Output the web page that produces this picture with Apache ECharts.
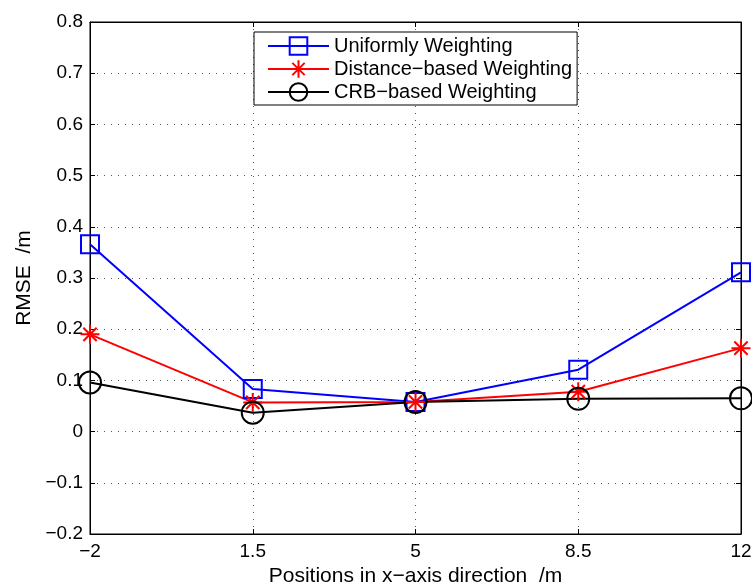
<!DOCTYPE html>
<html>
<head>
<meta charset="utf-8">
<script src="https://cdn.jsdelivr.net/npm/echarts@6/dist/echarts.min.js"></script>
<style>
  html, body { margin: 0; padding: 0; background: #fff; }
  #chart { width: 752px; height: 588px; }
</style>
</head>
<body>
<div id="chart"></div>
<script>
// x positions along the x-axis (m)
const positions = [-2, 1.5, 5, 8.5, 12]

// RMSE for each weighting scheme
const uniformRmse = [0.366, 0.083, 0.058, 0.121, 0.311]
const distanceRmse = [0.190, 0.057, 0.058, 0.078, 0.163]
const crbRmse = [0.096, 0.037, 0.058, 0.064, 0.065]

const seriesNames = ['Uniformly Weighting', 'Distance\u2212based Weighting', 'CRB\u2212based Weighting']

const FONT = 'Liberation Sans, Arial, sans-serif'
const asterisk = 'path://M10,0L10,20M0,10L20,10M3,3L17,17M3,17L17,3'

const pairs = (ys) => positions.map((x, i) => [x, ys[i]])
const minus = (v) => String(+v.toFixed(2)).replace('-', '\u2212')

const makeSeries = (name, data, color, symbol, size) => ({
  name,
  type: 'line',
  data: pairs(data),
  symbol,
  symbolSize: size,
  showAllSymbol: true,
  lineStyle: { color, width: 2 },
  itemStyle: { color: 'rgba(0,0,0,0)', borderColor: color, borderWidth: 2 },
  emphasis: { disabled: true }
})

const chart = echarts.init(document.getElementById('chart'))

// shared axis settings, MATLAB style inward ticks
const tickStyle = { inside: true, length: 5, lineStyle: { color: '#000', width: 1 } }
const lineStyle = { onZero: false, lineStyle: { color: '#000', width: 1 } }
const gridLine = { show: true, lineStyle: { color: '#555', width: 1, type: [1, 6] } }

chart.setOption({
  animation: false,
  grid: {
    left: 90, right: 11, top: 22, bottom: 54,
    outerBoundsMode: 'none',
    show: true, borderColor: '#000', borderWidth: 1
  },
  legend: {
    orient: 'vertical',
    left: 254,
    top: 32,
    padding: [4, 5, 3, 13],
    itemWidth: 61,
    itemHeight: 22,
    itemGap: 3,
    backgroundColor: '#fff',
    borderColor: '#000',
    borderWidth: 1,
    borderRadius: 0,
    textStyle: { fontFamily: FONT, fontSize: 20, color: '#000' },
    data: seriesNames
  },
  xAxis: [
    {
      type: 'value',
      min: -2,
      max: 12,
      interval: 3.5,
      name: 'Positions in x\u2212axis direction  /m',
      nameLocation: 'middle',
      nameGap: 30,
      nameTextStyle: { fontFamily: FONT, fontSize: 21, color: '#000' },
      axisLine: lineStyle,
      axisTick: tickStyle,
      axisLabel: { fontFamily: FONT, fontSize: 19, color: '#000', margin: 8, formatter: minus },
      splitLine: gridLine
    },
    {
      type: 'value', position: 'top', min: -2, max: 12, interval: 3.5,
      axisLine: lineStyle, axisTick: tickStyle, axisLabel: { show: false }, splitLine: { show: false }
    }
  ],
  yAxis: [
    {
      type: 'value',
      min: -0.2,
      max: 0.8,
      interval: 0.1,
      name: 'RMSE  /m',
      nameLocation: 'middle',
      nameGap: 55,
      nameTextStyle: { fontFamily: FONT, fontSize: 21, color: '#000' },
      axisLine: lineStyle,
      axisTick: tickStyle,
      axisLabel: { fontFamily: FONT, fontSize: 19, color: '#000', margin: 7, formatter: minus },
      splitLine: gridLine
    },
    {
      type: 'value', position: 'right', min: -0.2, max: 0.8, interval: 0.1,
      axisLine: lineStyle, axisTick: tickStyle, axisLabel: { show: false }, splitLine: { show: false }
    }
  ],
  series: [
    makeSeries(seriesNames[0], uniformRmse, '#0000ff', 'rect', 18),
    makeSeries(seriesNames[1], distanceRmse, '#ff0000', asterisk, 19),
    makeSeries(seriesNames[2], crbRmse, '#000000', 'circle', 22)
  ]
})
</script>
</body>
</html>
